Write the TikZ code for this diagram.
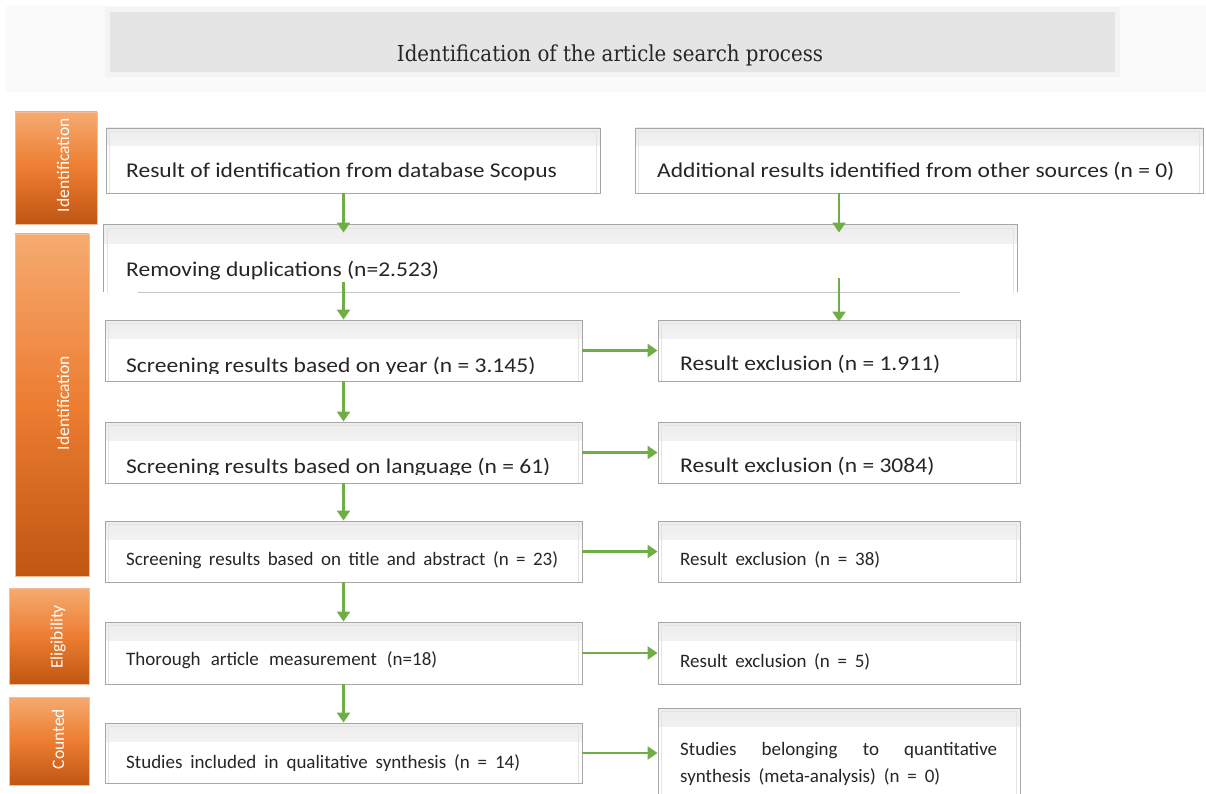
\documentclass[tikz,border=0pt]{standalone}
\usepackage{fontspec}
\setmainfont{Carlito}
\newfontfamily\bigfont[FakeStretch=1.12]{Carlito}
\newfontfamily\titlefont{DejaVu Serif Condensed}
\usetikzlibrary{arrows.meta}
\definecolor{arrgreen}{RGB}{112,173,71}
\definecolor{orTop}{RGB}{246,170,112}
\definecolor{orMid}{RGB}{236,125,49}
\definecolor{orBot}{RGB}{192,86,18}
\begin{document}
\begin{tikzpicture}[x=1pt,y=-1pt,
  bx/.style={rectangle, draw=gray!70, line width=0.9pt, fill=white, inner sep=0pt,
    path picture={
      \fill[top color=gray!14, bottom color=white]
        (path picture bounding box.north west) rectangle ([yshift=-18pt]path picture bounding box.north east);
      \draw[gray!22, line width=0.8pt]
        ([xshift=3.5pt,yshift=-2pt]path picture bounding box.south west) -- ([xshift=3.5pt,yshift=-3pt]path picture bounding box.north west)
        -- ([xshift=-3.5pt,yshift=-3pt]path picture bounding box.north east) -- ([xshift=-3.5pt,yshift=-2pt]path picture bounding box.south east);
    }},
  side/.style={rectangle, inner sep=0pt, draw=orMid!50, line width=0.5pt,
    top color=orTop, bottom color=orBot, middle color=orMid},
  sidetxt/.style={rotate=90, text=white, font=\fontsize{17.5}{20}\selectfont, inner sep=0pt},
  big/.style={anchor=base west, inner sep=0pt, font=\bigfont\fontsize{21}{24}\selectfont, text=black!85},
  small/.style={anchor=base west, inner sep=0pt, font=\fontsize{19}{22}\selectfont, text=black!85},
  arr/.style={draw=arrgreen, line width=2.4pt, -{Triangle[width=13pt,length=10pt]}}
]
\useasboundingbox (0,0) rectangle (1206,794);
\clip (0,0) rectangle (1206,794);

% title panel
\fill[gray!4] (6,6) rectangle (1206,92);
\node[rectangle, inner sep=0pt, minimum width=1010pt, minimum height=65pt,
  fill=gray!20, draw=gray!9, line width=5pt] (title) at (612,42.5) {};
\node[inner sep=0pt, font=\titlefont\fontsize{22}{24}\selectfont, text=black!85] (titletxt) at (610,55)
  {Identification of the article search process};

% side labels
\node[side, minimum width=82pt, minimum height=112pt] (s1) at (56,168) {};
\node[sidetxt] (s1t) at (63,165) {Identification};
\node[side, minimum width=74pt, minimum height=342pt] (s2) at (52,405) {};
\node[sidetxt] (s2t) at (63,403) {Identification};
\node[side, minimum width=80pt, minimum height=96pt] (s3) at (49,636.5) {};
\node[sidetxt] (s3t) at (58,637) {Eligibility};
\node[side, minimum width=80pt, minimum height=88pt] (s4) at (49,741) {};
\node[sidetxt] (s4t) at (58,739) {Counted};

% boxes
\node[bx, minimum width=494pt, minimum height=65pt] (A) at (353,160.5) {};
\node[bx, minimum width=568pt, minimum height=65pt] (B) at (919,160.5) {};
\node[bx, draw=none, minimum width=913pt, minimum height=67pt] (C) at (560.5,258.5) {};
\draw[gray!70, line width=0.9pt] (C.south west) -- (C.north west) -- (C.north east) -- (C.south east);
\draw[gray!45, line width=0.9pt] ([xshift=34pt]C.south west) -- ([xshift=-57pt]C.south east);

\node[bx, minimum width=477pt, minimum height=61pt] (D) at (343.5,350.5) {};
\node[bx, minimum width=362pt, minimum height=61pt] (E) at (839,350.5) {};
\node[bx, minimum width=477pt, minimum height=61pt] (F) at (343.5,452.5) {};
\node[bx, minimum width=362pt, minimum height=61pt] (G) at (839,452.5) {};
\node[bx, minimum width=477pt, minimum height=61pt] (H) at (343.5,551.5) {};
\node[bx, minimum width=362pt, minimum height=61pt] (I) at (839,551.5) {};
\node[bx, minimum width=477pt, minimum height=62pt] (J) at (343.5,653) {};
\node[bx, minimum width=362pt, minimum height=62pt] (K) at (839,653) {};
\node[bx, minimum width=477pt, minimum height=60pt] (L) at (343.5,753) {};
\node[bx, minimum width=362pt, minimum height=96pt] (M) at (839,756) {};

% texts
\node[big] (At) at (126,178) {Result of identification from database Scopus};
\node[big] (Bt) at (657,178) {Additional results identified from other sources (n = 0)};
\node[big] (Ct) at (126,276) {Removing duplications (n=2.523)};
\begin{scope}
  \clip (100,330) rectangle (600,373);
  \node[big] (Dt) at (126,372) {Screening results based on year (n = 3.145)};
\end{scope}
\node[big] (Et) at (680,370) {Result exclusion (n = 1.911)};
\begin{scope}
  \clip (100,430) rectangle (600,474);
  \node[big] (Ft) at (126,473) {Screening results based on language (n = 61)};
\end{scope}
\node[big] (Gt) at (680,472) {Result exclusion (n = 3084)};
\node[small] (Ht) at (126,565) {\makebox[432pt][s]{Screening results based on title and abstract (n = 23)}};
\node[small] (It) at (680,565) {\makebox[200pt][s]{Result exclusion (n = 38)}};
\node[small] (Jt) at (126,665) {\makebox[311pt][s]{Thorough article measurement (n=18)}};
\node[small] (Kt) at (680,667) {\makebox[190pt][s]{Result exclusion (n = 5)}};
\node[small] (Lt) at (126,768) {\makebox[394pt][s]{Studies included in qualitative synthesis (n = 14)}};
\node[small] (Mt1) at (680,755) {\makebox[317pt][s]{Studies belonging to quantitative}};
\node[small] (Mt2) at (680,782) {\makebox[260pt][s]{synthesis (meta-analysis) (n = 0)}};

% arrows
\draw[arr] (A.south -| D.north) -- ([yshift=-8pt]C.north -| D.north);
\draw[arr] (B.south -| E.north) -- ([yshift=-8pt]C.north -| E.north);
\draw[arr] ([yshift=10pt]C.south -| D.north) -- (D.north);
\draw[arr] ([yshift=14pt]C.south -| E.north) -- ([yshift=-2pt]E.north);
\draw[arr] (D.south) -- (F.north);
\draw[arr] (F.south) -- (H.north);
\draw[arr] (H.south) -- (J.north);
\draw[arr] (J.south) -- (L.north);
\draw[arr] (D.east) -- (E.west);
\draw[arr] (F.east) -- (G.west);
\draw[arr] (H.east) -- (I.west);
\draw[arr] (J.east) -- (K.west);
\draw[arr] (L.east) -- (L.east -| M.west);
\end{tikzpicture}
\end{document}
